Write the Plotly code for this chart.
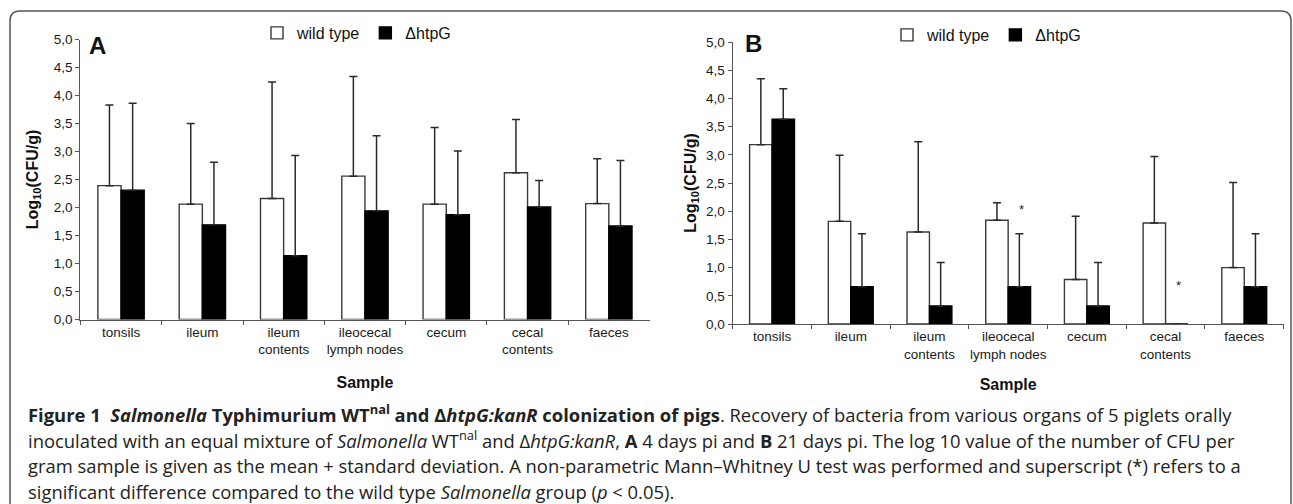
import plotly.graph_objects as go

W, H = 1293, 504

categories = ["tonsils", "ileum", "ileum<br>contents", "ileocecal<br>lymph nodes",
              "cecum", "cecal<br>contents", "faeces"]

# Panel A (4 days pi): means and standard deviations
a_wt_mean = [2.39, 2.06, 2.16, 2.56, 2.06, 2.62, 2.07]
a_wt_sd = [1.44, 1.44, 2.08, 1.78, 1.37, 0.95, 0.80]
a_mut_mean = [2.31, 1.69, 1.14, 1.94, 1.87, 2.01, 1.67]
a_mut_sd = [1.55, 1.12, 1.79, 1.34, 1.14, 0.47, 1.17]

# Panel B (21 days pi)
b_wt_mean = [3.18, 1.82, 1.63, 1.84, 0.79, 1.79, 1.00]
b_wt_sd = [1.17, 1.17, 1.60, 0.31, 1.12, 1.18, 1.51]
b_mut_mean = [3.63, 0.66, 0.32, 0.66, 0.32, 0.00, 0.66]
b_mut_sd = [0.54, 0.94, 0.77, 0.94, 0.77, None, 0.94]

# significance markers in panel B
sig_categories = ["ileocecal<br>lymph nodes", "cecal<br>contents"]
sig_y = [2.03, 0.69]

series_names = ["wild type", "ΔhtpG"]
tick_vals = [0, 0.5, 1, 1.5, 2, 2.5, 3, 3.5, 4, 4.5, 5]

fig = go.Figure()

def add_panel(wt_mean, wt_sd, mut_mean, mut_sd, xa, ya, legend):
    fig.add_trace(go.Bar(
        x=categories, y=wt_mean, name=series_names[0], xaxis=xa, yaxis=ya,
        legend=legend, offsetgroup="wt",
        marker=dict(color="white", line=dict(color="#3a3a3a", width=1.4)),
        error_y=dict(type="data", symmetric=False, array=wt_sd,
                     arrayminus=[0] * len(wt_sd), color="#2a2a2a",
                     thickness=1.5, width=4),
    ))
    fig.add_trace(go.Bar(
        x=categories, y=mut_mean, name=series_names[1], xaxis=xa, yaxis=ya,
        legend=legend, offsetgroup="mut",
        marker=dict(color="black", line=dict(color="black", width=1.4)),
        error_y=dict(type="data", symmetric=False, array=mut_sd,
                     arrayminus=[0] * len(mut_sd), color="#2a2a2a",
                     thickness=1.5, width=4),
    ))

add_panel(a_wt_mean, a_wt_sd, a_mut_mean, a_mut_sd, "x", "y", "legend")
add_panel(b_wt_mean, b_wt_sd, b_mut_mean, b_mut_sd, "x2", "y2", "legend2")

axis_font = dict(family="Liberation Sans, Arial, sans-serif", size=13.5, color="#1a1a1a")
title_font = dict(family="Liberation Sans, Arial, sans-serif", size=16, color="#111")

def xaxis_cfg(domain, anchor, standoff):
    return dict(domain=domain, anchor=anchor, type="category", categoryorder="array",
                categoryarray=categories, showline=True, linecolor="#555",
                linewidth=1.2, ticks="outside", tickson="boundaries", ticklen=4,
                tickcolor="#555", tickfont=axis_font, showgrid=False, tickangle=0,
                title=dict(text="<b>Sample</b>", font=title_font, standoff=standoff),
                automargin=False)

def yaxis_cfg(domain, anchor, standoff):
    return dict(domain=domain, anchor=anchor, range=[0, 5], tickvals=tick_vals,
                tickformat=".1f", showline=True, linecolor="#555", linewidth=1.2,
                ticks="outside", ticklen=4, tickcolor="#555", tickfont=axis_font,
                showgrid=False, zeroline=False,
                title=dict(text="<b>Log<sub>10</sub>(CFU/g)</b>", font=title_font,
                           standoff=standoff),
                automargin=False)

legend_font = dict(family="Liberation Sans, Arial", size=16, color="#111")

fig.update_layout(
    width=W, height=H, margin=dict(l=0, r=0, t=0, b=0),
    paper_bgcolor="white", plot_bgcolor="white",
    separators=",.",
    barmode="group", bargap=0.43, bargroupgap=0,
    xaxis=xaxis_cfg([80.4 / W, 649.5 / W], "y", 20),
    yaxis=yaxis_cfg([1 - 319.5 / H, 1 - 39.5 / H], "x", 11),
    xaxis2=xaxis_cfg([732.7 / W, 1283.6 / W], "y2", 17),
    yaxis2=yaxis_cfg([1 - 324 / H, 1 - 42 / H], "x2", 5),
    legend=dict(x=257 / W, y=1 - 16 / H, xanchor="left", yanchor="top",
                orientation="h", font=legend_font,
                bgcolor="rgba(0,0,0,0)", itemwidth=30),
    legend2=dict(x=887 / W, y=1 - 18 / H, xanchor="left", yanchor="top",
                 orientation="h", font=legend_font,
                 bgcolor="rgba(0,0,0,0)", itemwidth=30),
    font=dict(family="Liberation Sans, Arial, sans-serif"),
)

# panel letters
for letter, px, py in [("A", 87, 45), ("B", 743, 43)]:
    fig.add_annotation(text=f"<b>{letter}</b>", x=px / W, y=1 - py / H, xref="paper",
                       yref="paper", xanchor="left", yanchor="middle", showarrow=False,
                       font=dict(family="Liberation Sans, Arial", size=24, color="#111"))

# asterisks
for c, yv in zip(sig_categories, sig_y):
    fig.add_annotation(text="*", x=c, y=yv, xref="x2", yref="y2", xshift=13,
                       showarrow=False, yanchor="middle",
                       font=dict(family="Liberation Sans, Arial", size=13, color="#222"))

# caption
cap_font = dict(family="Open Sans, sans-serif", size=18.4, color="#222")
caption_lines = [
    "<b>Figure 1  <i>Salmonella</i> Typhimurium WT<sup>nal</sup> and Δ<i>htpG:kanR</i> colonization of pigs</b>. Recovery of bacteria from various organs of 5 piglets orally",
    "inoculated with an equal mixture of <i>Salmonella</i> WT<sup>nal</sup> and Δ<i>htpG:kanR</i>, <b>A</b> 4 days pi and <b>B</b> 21 days pi. The log 10 value of the number of CFU per",
    "gram sample is given as the mean + standard deviation. A non-parametric Mann–Whitney U test was performed and superscript (*) refers to a",
    "significant difference compared to the wild type <i>Salmonella</i> group (<i>p</i> &lt; 0.05).",
]
for i, line in enumerate(caption_lines):
    fig.add_annotation(text=line, x=26 / W, y=1 - (413 + 26.3 * i) / H, xref="paper",
                       yref="paper", xanchor="left", yanchor="middle", showarrow=False,
                       font=cap_font, align="left")

# rounded frame
x0, x1 = 10 / W, 1291 / W
yt, yb = 1 - 11 / H, -0.3
rx, ry = 10 / W, 10 / H
path = (f"M {x0},{yb} L {x0},{yt - ry} Q {x0},{yt} {x0 + rx},{yt} "
        f"L {x1 - rx},{yt} Q {x1},{yt} {x1},{yt - ry} L {x1},{yb}")
fig.add_shape(type="path", path=path, xref="paper", yref="paper",
              line=dict(color="#555", width=1.5))

fig.write_html("out.html", config={"displayModeBar": False},
               post_script="document.body.style.margin='0';document.body.style.overflow='hidden';")
